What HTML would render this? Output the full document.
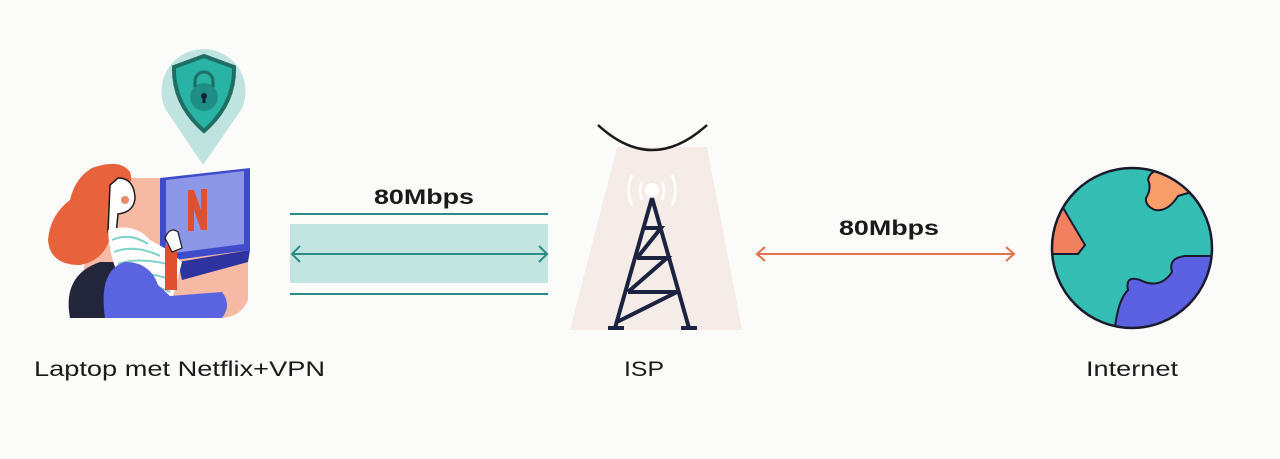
<!DOCTYPE html>
<html><head><meta charset="utf-8"><style>
html,body{margin:0;padding:0;background:#fbfbfa;}
svg{display:block}
text{font-family:"Liberation Sans",sans-serif;fill:#1a1a1a}
</style></head><body>
<svg width="1280" height="459" viewBox="0 0 1280 459" xmlns="http://www.w3.org/2000/svg">
<rect width="1280" height="459" fill="#fbfbfa"/>
<!-- backdrop -->
<path d="M122 178 L235 178 Q245 178 248 190 L248 300 Q240 318 220 318 L85 318 Q72 250 122 178Z" fill="#f6b9a4"/>
<!-- pin -->
<path d="M203 165 L166 110 A42 42 0 1 1 241 110 Z" fill="#bfe3df"/>
<path d="M204 56 L174 67 Q173 104 204 131 Q235 104 234 67 Z" fill="#29b3a4" stroke="#1f6e64" stroke-width="4"/>
<circle cx="204" cy="97" r="14" fill="#1f8f85"/>
<path d="M195 87 v-6 a9 9 0 0 1 18 0 v6" fill="none" stroke="#1f6e64" stroke-width="3"/>
<circle cx="204" cy="96" r="3" fill="#123"/>
<rect x="202.5" y="96" width="3" height="7" fill="#123"/>
<!-- laptop -->
<path d="M160 178 L250 168 L250 250 L160 262 Z" fill="#3f4bc8"/>
<path d="M166 180 L244 171 L244 244 L166 254 Z" fill="#8d97e8"/>
<path d="M188 190 h6 l7 20 v-21 h6 v41 h-6 l-7 -20 v21 h-6 z" fill="#e0502f"/>
<path d="M178 262 L250 250 L248 262 L182 280 Z" fill="#2e33a0"/>
<!-- chair back -->
<path d="M70 318 Q62 275 100 262 L118 262 L120 318 Z" fill="#23253a"/>
<!-- hair -->
<path d="M92 168 Q120 158 130 172 Q135 185 120 190 L112 228 Q108 260 80 265 Q50 265 48 240 Q50 215 70 200 Q75 178 92 168Z" fill="#e8623c"/>
<!-- face -->
<path d="M118 178 Q134 178 135 198 Q134 212 118 214 L116 235 L108 232 L110 185 Z" fill="#fff" stroke="#1a1a1a" stroke-width="1.5"/>
<circle cx="125" cy="200" r="4" fill="#f08870"/>
<!-- sweater -->
<path d="M108 230 Q135 222 150 240 L168 250 L182 262 L172 300 L155 302 L130 292 Q110 270 108 230Z" fill="#fff"/>
<g stroke="#7fd1c8" stroke-width="2" fill="none">
<path d="M112 240 Q130 232 148 244 M114 252 Q135 244 160 256 M118 264 Q140 256 175 266 M125 276 Q145 270 172 280 M135 288 Q150 282 170 292"/>
</g>
<rect x="165" y="245" width="12" height="45" fill="#e0502f"/>
<!-- blue arm/body -->
<path d="M105 318 Q98 270 125 262 Q150 262 158 285 L170 296 L222 292 Q232 305 222 318 Z" fill="#5a63e0"/>
<!-- hands -->
<path d="M165 238 Q170 226 178 232 L182 248 L172 252 Z" fill="#fff" stroke="#1a1a1a" stroke-width="1.2"/>
<!-- teal link -->
<rect x="290" y="224" width="258" height="59" fill="#c3e5e1"/>
<line x1="290" y1="214" x2="548" y2="214" stroke="#2a8c84" stroke-width="2"/>
<line x1="290" y1="294" x2="548" y2="294" stroke="#2a8c84" stroke-width="2"/>
<line x1="292" y1="254" x2="547" y2="254" stroke="#2a8c84" stroke-width="2"/>
<path d="M300 246 L292 254 L300 262 M539 246 L547 254 L539 262" fill="none" stroke="#2a8c84" stroke-width="2"/>
<text x="374" y="204" font-size="21" font-weight="bold" textLength="100" lengthAdjust="spacingAndGlyphs">80Mbps</text>
<!-- tower -->
<path d="M617 147 L707 147 L742 330 L570 330 Z" fill="#f5ece8"/>
<path d="M598 125 Q652 175 707 125" fill="none" stroke="#1a1a1a" stroke-width="2.5"/>
<path d="M632 205 Q625 190 632 175 M642 200 Q638 190 642 182 M672 175 Q679 190 672 205 M662 182 Q666 190 662 200" fill="none" stroke="#fff" stroke-width="2.5"/>
<circle cx="652" cy="190" r="7" fill="#fff"/>
<g fill="none" stroke="#1c2340" stroke-width="4">
<path d="M652 198 L615 328 M652 198 L689 328 M643 228 L661 228 L637 258 M637 258 L667 258 L628 292 M628 292 L677 292 L617 322"/>
<path d="M608 328 H624 M681 328 H697"/>
</g>
<!-- orange link -->
<line x1="757" y1="254" x2="1014" y2="254" stroke="#e3714c" stroke-width="2"/>
<path d="M765 247 L757 254 L765 261 M1006 247 L1014 254 L1006 261" fill="none" stroke="#e3714c" stroke-width="2"/>
<text x="839" y="235" font-size="21" font-weight="bold" textLength="100" lengthAdjust="spacingAndGlyphs">80Mbps</text>
<!-- globe -->
<defs><clipPath id="g"><circle cx="1132" cy="248" r="80"/></clipPath></defs>
<circle cx="1132" cy="248" r="80" fill="#34bdb2"/>
<g clip-path="url(#g)">
<path d="M1146 198 Q1152 188 1148 180 Q1150 170 1162 170 L1185 172 Q1200 176 1202 190 Q1190 192 1178 196 Q1168 212 1155 210 Q1145 206 1146 198Z" fill="#f89e69" stroke="#1a1a2e" stroke-width="2"/>
<path d="M1062 206 Q1075 228 1085 245 L1078 254 L1050 254 L1050 200Z" fill="#f08060" stroke="#1a1a2e" stroke-width="2"/>
<path d="M1115 328 Q1118 300 1128 290 Q1125 275 1140 280 Q1160 290 1172 272 Q1168 258 1185 256 L1220 256 L1220 340 L1110 340Z" fill="#5b61e0" stroke="#1a1a2e" stroke-width="2"/>
</g>
<circle cx="1132" cy="248" r="80" fill="none" stroke="#1a1a2e" stroke-width="2.5"/>
<!-- labels -->
<text x="34" y="376" font-size="21" textLength="291" lengthAdjust="spacingAndGlyphs">Laptop met Netflix+VPN</text>
<text x="624" y="376" font-size="21" textLength="40" lengthAdjust="spacingAndGlyphs">ISP</text>
<text x="1086" y="376" font-size="21" textLength="92" lengthAdjust="spacingAndGlyphs">Internet</text>
</svg>
</body></html>
